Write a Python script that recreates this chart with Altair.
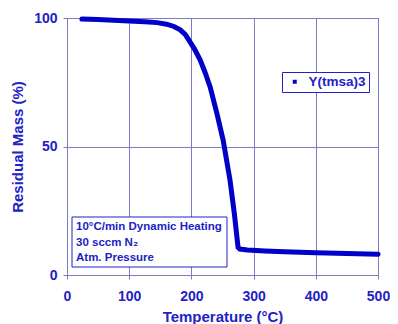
import altair as alt
import pandas as pd

temperature = [24, 50, 75, 100, 125, 145, 160, 172, 182, 190, 196, 205, 214, 222, 230,
               241, 251, 262, 269, 275, 278, 290, 318, 350, 400, 450, 500]
mass = [99.6, 99.4, 99.1, 98.8, 98.5, 98.2, 97.6, 96.7, 95.4, 93.6, 91.4, 87.9, 83.7,
        78.8, 73.3, 62.9, 52.5, 37.0, 24.0, 10.8, 10.1, 9.7, 9.3, 9.0, 8.7, 8.4, 8.05]
series_name = "Y(tmsa)3"
notes = ["10°C/min Dynamic Heating", "30 sccm N₂", "Atm. Pressure"]
x_ticks = [0, 100, 200, 300, 400, 500]
y_ticks = [0, 50, 100]

TEXT = "#2222c4"
GRID = "#7b7bc6"
LINE = "#0000c8"
FONT = "Liberation Sans"

df = pd.DataFrame({"T": temperature, "M": mass, "s": [series_name] * len(mass)})

line = alt.Chart(df).mark_line(strokeWidth=5, color=LINE, strokeCap="round").encode(
    x=alt.X("T:Q", scale=alt.Scale(domain=[0, 500], nice=False),
            axis=alt.Axis(values=x_ticks, title="Temperature (°C)", titlePadding=6,
                          labelPadding=10, labelFlush=False)),
    y=alt.Y("M:Q", scale=alt.Scale(domain=[0, 100], nice=False),
            axis=alt.Axis(values=y_ticks, title="Residual Mass (%)", titlePadding=8,
                          labelPadding=6, labelFlush=False)),
    color=alt.Color("s:N", scale=alt.Scale(range=[LINE]),
                    legend=alt.Legend(title=None, orient="none", legendX=215, legendY=54,
                                      strokeColor=TEXT, fillColor="white", padding=3,
                                      symbolType="square", symbolSize=16,
                                      symbolFillColor=LINE, symbolStrokeWidth=0,
                                      symbolOffset=3, labelOffset=7,
                                      labelFont=FONT, labelFontSize=13.5,
                                      labelFontWeight="bold", labelColor=TEXT)),
)

notes_df = pd.DataFrame({"t": notes, "i": list(range(len(notes)))})

box = alt.Chart(pd.DataFrame({"a": [0]})).mark_rect(
    fill="white", stroke=TEXT, strokeWidth=1
).encode(x=alt.value(5), x2=alt.value(160), y=alt.value(199), y2=alt.value(249))

txt = alt.Chart(notes_df).mark_text(
    align="left", baseline="middle", font=FONT, fontSize=11.5, fontWeight="bold", color=TEXT
).encode(
    x=alt.value(9),
    y=alt.Y("i:Q", scale=alt.Scale(domain=[0, 2], range=[209, 240]), axis=None),
    text="t:N",
)

chart = alt.layer(line, box, txt).resolve_scale(y="independent").properties(
    width=311, height=257,
    padding={"left": 59, "top": 10, "right": 12, "bottom": 49},
    autosize=alt.AutoSizeParams(type="none"),
    background="white",
).configure_view(stroke=GRID, strokeWidth=1).configure_axis(
    grid=True, gridColor=GRID, gridWidth=1, gridOpacity=1,
    domainColor=GRID, tickColor=GRID, tickSize=4,
    labelFont=FONT, labelFontSize=14, labelFontWeight="bold", labelColor=TEXT,
    titleFont=FONT, titleFontSize=15, titleFontWeight="bold", titleColor=TEXT,
)

chart.save("out.html", embed_options={"renderer": "svg", "actions": False})
